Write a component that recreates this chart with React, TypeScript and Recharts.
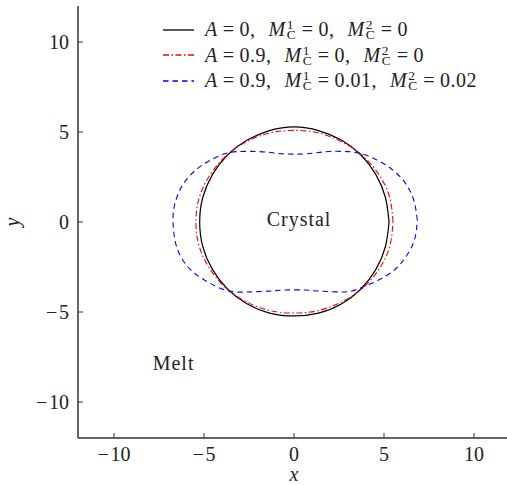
import React from 'react';
import { LineChart, Line, XAxis, YAxis, ReferenceDot, Legend } from 'recharts';

// Interface contours (x, y in lattice units).
const isotropic = [
  { x: 5.28, y: 0 }, { x: 5.08, y: 1.36 }, { x: 4.55, y: 2.63 }, { x: 3.72, y: 3.72 },
  { x: 2.63, y: 4.55 }, { x: 1.36, y: 5.08 }, { x: 0.02, y: 5.28 }, { x: -1.36, y: 5.08 },
  { x: -2.62, y: 4.54 }, { x: -3.71, y: 3.71 }, { x: -4.54, y: 2.62 }, { x: -5.07, y: 1.36 },
  { x: -5.24, y: 0.02 }, { x: -5.07, y: -1.36 }, { x: -4.54, y: -2.62 }, { x: -3.71, y: -3.71 },
  { x: -2.62, y: -4.54 }, { x: -1.36, y: -5.06 }, { x: 0, y: -5.22 }, { x: 1.36, y: -5.06 },
  { x: 2.63, y: -4.55 }, { x: 3.72, y: -3.72 }, { x: 4.55, y: -2.63 }, { x: 5.08, y: -1.36 },
  { x: 5.28, y: 0 },
];

const anisotropic = [
  { x: 5.5, y: 0 }, { x: 5.3, y: 1.42 }, { x: 4.67, y: 2.7 }, { x: 3.74, y: 3.74 },
  { x: 2.59, y: 4.49 }, { x: 1.32, y: 4.96 }, { x: 0, y: 5.09 }, { x: -1.32, y: 4.95 },
  { x: -2.59, y: 4.49 }, { x: -3.72, y: 3.72 }, { x: -4.63, y: 2.67 }, { x: -5.25, y: 1.4 },
  { x: -5.45, y: 0 }, { x: -5.25, y: -1.4 }, { x: -4.63, y: -2.67 }, { x: -3.72, y: -3.72 },
  { x: -2.58, y: -4.47 }, { x: -1.31, y: -4.93 }, { x: 0, y: -5.06 }, { x: 1.31, y: -4.93 },
  { x: 2.58, y: -4.47 }, { x: 3.74, y: -3.74 }, { x: 4.67, y: -2.7 }, { x: 5.3, y: -1.42 },
  { x: 5.5, y: 0 },
];

const withConvection = [
  { x: 6.85, y: 0.1 }, { x: 6.7, y: 1.04 }, { x: 6.32, y: 1.96 }, { x: 5.6, y: 2.8 },
  { x: 4.7, y: 3.4 }, { x: 3.8, y: 3.78 }, { x: 3.0, y: 3.91 }, { x: 2.0, y: 3.92 },
  { x: 1.2, y: 3.84 }, { x: 0.5, y: 3.78 }, { x: -0.5, y: 3.78 }, { x: -1.3, y: 3.86 },
  { x: -2.2, y: 3.92 }, { x: -3.2, y: 3.91 }, { x: -3.9, y: 3.78 }, { x: -4.65, y: 3.44 },
  { x: -5.35, y: 2.98 }, { x: -6.0, y: 2.33 }, { x: -6.46, y: 1.5 }, { x: -6.7, y: 0.57 },
  { x: -6.7, y: -0.35 }, { x: -6.55, y: -1.28 }, { x: -6.18, y: -2.11 }, { x: -5.63, y: -2.76 },
  { x: -4.98, y: -3.22 }, { x: -4.24, y: -3.62 }, { x: -3.4, y: -3.87 }, { x: -2.4, y: -3.88 },
  { x: -1.4, y: -3.84 }, { x: -0.5, y: -3.78 }, { x: 0.6, y: -3.78 }, { x: 1.4, y: -3.84 },
  { x: 2.3, y: -3.88 }, { x: 3.1, y: -3.86 }, { x: 3.8, y: -3.62 }, { x: 4.65, y: -3.25 },
  { x: 5.57, y: -2.67 }, { x: 6.22, y: -1.93 }, { x: 6.69, y: -1.0 }, { x: 6.85, y: 0.1 },
];

const ticks = [-10, -5, 0, 5, 10];
const domain = [-12, 12];

const series = [
  { key: 'iso', data: isotropic, A: '0', m1: '0', m2: '0', color: '#000000', dash: undefined, width: 1.2 },
  { key: 'aniso', data: anisotropic, A: '0.9', m1: '0', m2: '0', color: '#ff0000', dash: '6 2.5 1.5 2.5', width: 1.1 },
  { key: 'conv', data: withConvection, A: '0.9', m1: '0.01', m2: '0.02', color: '#0000ff', dash: '5.5 4', width: 1.1 },
];

const regionLabels = [
  { text: 'Crystal', x: 0.28, y: 0.17 },
  { text: 'Melt', x: -6.69, y: -7.83 },
];

const FONT = '"Liberation Serif", "DejaVu Serif", serif';
const INK = '#222';
const AXIS = '#333';

const fmt = (v: number) => (v < 0 ? `\u2212\u200A${Math.abs(v)}` : `${v}`);

const Eq = () => <span style={{ padding: '0 5px' }}>=</span>;

// superscript over subscript, kept in a single two-line text node
const SubSup = ({ sup, sub }: { sup: string; sub: string }) => (
  <span
    style={{
      display: 'inline-block',
      whiteSpace: 'pre',
      fontSize: 13.5,
      lineHeight: '10px',
      verticalAlign: '-3px',
      margin: '0 1px',
      letterSpacing: 0,
    }}
  >
    {`${sup}\n${sub}`}
  </span>
);

const LegendBox = () => (
  <div style={{ fontFamily: FONT, fontSize: 20, color: INK, letterSpacing: 0.5 }}>
    {series.map(s => (
      <div key={s.key} style={{ display: 'flex', alignItems: 'center', height: 25.5, whiteSpace: 'nowrap' }}>
        <svg width={31} height={10} style={{ marginRight: 11 }}>
          <line x1={0} x2={31} y1={5} y2={5} stroke={s.color} strokeWidth={1.3} strokeDasharray={s.dash} />
        </svg>
        <span>
          <i>A</i><Eq />{s.A},<span style={{ marginRight: 13 }} />
          <i>M</i><SubSup sup="1" sub="C" /><Eq />{s.m1},<span style={{ marginRight: 13 }} />
          <i>M</i><SubSup sup="2" sub="C" /><Eq />{s.m2}
        </span>
      </div>
    ))}
  </div>
);

export default function App() {
  return (
    <div style={{ position: 'absolute', left: 0, top: 0, width: 507, height: 485, overflow: 'hidden', background: '#fff' }}>
      <LineChart width={520} height={485} margin={{ top: 6, right: 10, left: 0, bottom: 0 }}>
        <XAxis
          xAxisId="top"
          orientation="top"
          type="number"
          domain={domain}
          height={0}
          tick={false}
          tickLine={false}
          axisLine={{ stroke: AXIS, strokeWidth: 1.5 }}
        />
        <XAxis
          dataKey="x"
          type="number"
          domain={domain}
          ticks={ticks}
          allowDataOverflow
          height={47}
          tickSize={-5}
          tickMargin={14}
          tickFormatter={fmt}
          tick={{ fill: INK, fontSize: 20, fontFamily: FONT }}
          tickLine={{ stroke: AXIS }}
          axisLine={{ stroke: AXIS, strokeWidth: 1.5 }}
          label={{ value: 'x', position: 'insideBottom', offset: 4, fill: INK, fontSize: 20, fontStyle: 'italic', fontFamily: FONT }}
        />
        <YAxis
          dataKey="y"
          type="number"
          domain={domain}
          ticks={ticks}
          allowDataOverflow
          width={78}
          tickSize={-5}
          tickMargin={14}
          tickFormatter={fmt}
          tick={{ fill: INK, fontSize: 20, fontFamily: FONT }}
          tickLine={{ stroke: AXIS }}
          axisLine={{ stroke: AXIS, strokeWidth: 1.5 }}
          label={{
            content: () => (
              <text x={19} y={222} transform="rotate(-90 19 222)" textAnchor="middle" fill={INK}
                fontSize={20} fontStyle="italic" fontFamily={FONT}>y</text>
            ),
          }}
        />
        {series.map(s => (
          <Line
            key={s.key}
            data={s.data}
            dataKey="y"
            type="natural"
            stroke={s.color}
            strokeWidth={s.width}
            strokeDasharray={s.dash}
            dot={false}
            activeDot={false}
            isAnimationActive={false}
          />
        ))}
        {regionLabels.map(l => (
          <ReferenceDot
            key={l.text}
            x={l.x}
            y={l.y}
            r={0}
            fill="none"
            stroke="none"
            label={{ value: l.text, position: 'center', fill: INK, fontSize: 20, letterSpacing: 1, fontFamily: FONT }}
          />
        ))}
        <Legend
          layout="horizontal"
          verticalAlign="middle"
          align="center"
          content={() => <LegendBox />}
          wrapperStyle={{ top: 17, left: 163, width: 'auto' }}
        />
      </LineChart>
    </div>
  );
}
